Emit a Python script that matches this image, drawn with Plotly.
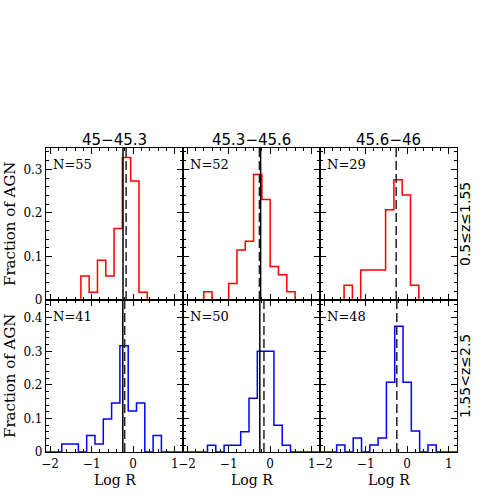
'''
    Histograms of Log R for AGN in three luminosity bins (columns)
    and two redshift bins (rows).
'''

import plotly.graph_objects as go
from plotly.subplots import make_subplots


col_titles = ['45−45.3', '45.3−45.6', '45.6−46']
row_titles = ['0.5≤z≤1.55', '1.55<z≤2.5']
n_agn = [55, 52, 29, 41, 50, 48]

# top row (0.5<=z<=1.55), bin edges in Log R and fraction per bin
edges_a = [-1.66, -1.46, -1.26, -1.06, -0.86, -0.66, -0.46, -0.26, -0.06,
           0.14, 0.34, 0.54, 0.74, 0.94, 1.14, 1.34]
frac_a = [0, 0, 0.055, 0.018, 0.091, 0.055, 0.164, 0.327, 0.273, 0.018,
          0, 0, 0, 0, 0]

edges_b = [-2.2, -2.0, -1.8, -1.6, -1.4, -1.2, -1.0, -0.8, -0.6, -0.4, -0.2,
           0.0, 0.2, 0.4, 0.6, 0.8, 1.0, 1.2, 1.4]
frac_b = [0, 0, 0, 0.019, 0, 0, 0.038, 0.115, 0.135, 0.288, 0.231, 0.077,
          0.058, 0.019, 0, 0, 0, 0]

edges_c = [-2.12, -1.92, -1.72, -1.52, -1.32, -1.12, -0.92, -0.72, -0.52,
           -0.32, -0.12, 0.08, 0.28, 0.48, 0.68]
frac_c = [0, 0, 0, 0.034, 0, 0.069, 0.069, 0.069, 0.207, 0.276, 0.241,
          0.034, 0, 0]

# bottom row (1.55<z<=2.5)
edges_d = [-2.12, -1.92, -1.72, -1.52, -1.32, -1.12, -0.92, -0.72, -0.52,
           -0.32, -0.12, 0.08, 0.28, 0.48, 0.68, 0.88, 1.08, 1.28]
frac_d = [0, 0, 0.024, 0.024, 0, 0.049, 0.024, 0.098, 0.146, 0.317, 0.122,
          0.146, 0, 0.049, 0, 0, 0]

edges_e = [-2.11, -1.91, -1.71, -1.51, -1.31, -1.11, -0.91, -0.71, -0.51,
           -0.31, -0.11, 0.09, 0.29, 0.49, 0.69, 0.89, 1.09, 1.29]
frac_e = [0, 0, 0, 0.02, 0, 0.02, 0.02, 0.06, 0.16, 0.30, 0.30, 0.08, 0.02,
          0, 0, 0, 0]

edges_f = [-2.1, -1.9, -1.7, -1.5, -1.3, -1.1, -0.9, -0.7, -0.5, -0.3, -0.1,
           0.1, 0.3, 0.5, 0.7, 0.9, 1.1, 1.3]
frac_f = [0, 0, 0.021, 0, 0.042, 0, 0.021, 0.042, 0.208, 0.375, 0.208,
          0.0625, 0, 0.021, 0, 0, 0]

# median markers (solid / dashed), None where no line is drawn
solid_median = [-0.245, -0.23, None, -0.25, -0.25, None]
dashed_median = [-0.17, -0.26, -0.265, -0.205, -0.15, -0.25]

SERIF = 'DejaVu Serif'
SANS = 'DejaVu Sans'


def add_histograms(fig):
    '''
        Draws each histogram as a step outline.
    '''
    panels = [(edges_a, frac_a), (edges_b, frac_b), (edges_c, frac_c),
              (edges_d, frac_d), (edges_e, frac_e), (edges_f, frac_f)]
    for i, (edges, frac) in enumerate(panels):
        row, col = i // 3 + 1, i % 3 + 1
        color = 'red' if row == 1 else 'blue'
        fig.add_trace(go.Scatter(
            x=edges, y=list(frac) + [frac[-1]],
            mode='lines', line=dict(color=color, width=1.5, shape='hv'),
            showlegend=False, hoverinfo='skip'
        ), row=row, col=col)
    return fig


def add_medians(fig):
    '''
        Adds the vertical median lines.
    '''
    for i in range(6):
        row, col = i // 3 + 1, i % 3 + 1
        if solid_median[i] is not None:
            fig.add_vline(x=solid_median[i], line=dict(color='black', width=1.5),
                          row=row, col=col)
        if dashed_median[i] is not None:
            fig.add_vline(x=dashed_median[i],
                          line=dict(color='#222222', width=1.5, dash='9px,4px'),
                          row=row, col=col)
    return fig


def update_axes(fig):
    '''
        Boxed frames with inside ticks on all sides.
    '''
    common = dict(ticks='inside', tickcolor='black', tickwidth=1, ticklen=6,
                  showline=True, linecolor='black', linewidth=1.2,
                  mirror='allticks', showgrid=False, zeroline=False,
                  layer='below traces',
                  tickfont=dict(family=SERIF, size=12, color='black'))
    fig.update_xaxes(range=[-2.1, 1.2], tick0=0, dtick=1,
                     minor=dict(tick0=0, dtick=0.2, ticks='inside', ticklen=3,
                                tickcolor='black'),
                     **common)
    fig.update_xaxes(showticklabels=False, row=1)
    fig.update_yaxes(tick0=0, dtick=0.1,
                     minor=dict(tick0=0, dtick=0.02, ticks='inside', ticklen=3,
                                tickcolor='black'),
                     **common)
    fig.update_yaxes(range=[0, 0.349], row=1)
    fig.update_yaxes(range=[0, 0.453], row=2)
    for c in (2, 3):
        fig.update_yaxes(showticklabels=False, col=c)
    return fig


def add_labels(fig):
    '''
        Column titles, row titles, axis titles and N counts.
    '''
    for c in range(3):
        fig.add_annotation(text=col_titles[c], x=(c + 0.5) / 3, y=1 + 8 / 304,
                           xref='paper', yref='paper', showarrow=False,
                           xanchor='center', yanchor='middle',
                           font=dict(family=SANS, size=15))
        fig.add_annotation(text='Log R', x=(c + 0.5) / 3, y=-28 / 304,
                           xref='paper', yref='paper', showarrow=False,
                           xanchor='center', yanchor='middle',
                           font=dict(family=SERIF, size=14))
    for r in range(2):
        fig.add_annotation(text=row_titles[r], x=1 + 8 / 411, y=0.75 - 0.5 * r,
                           xref='paper', yref='paper', showarrow=False,
                           textangle=-90, xanchor='center', yanchor='middle',
                           font=dict(family=SANS, size=14))
        fig.add_annotation(text='Fraction of AGN', x=-36 / 411,
                           y=0.75 - 0.5 * r, xref='paper', yref='paper',
                           showarrow=False, textangle=-90, xanchor='center',
                           yanchor='middle', font=dict(family=SERIF, size=15))
    for i in range(6):
        ax = '' if i == 0 else str(i + 1)
        fig.add_annotation(text='N=%d' % n_agn[i], x=0.035, y=0.955,
                           xref='x%s domain' % ax, yref='y%s domain' % ax,
                           xanchor='left', yanchor='top', showarrow=False,
                           font=dict(family=SERIF, size=13))
    return fig


fig = make_subplots(rows=2, cols=3, horizontal_spacing=0, vertical_spacing=0)
fig = add_histograms(fig)
fig = add_medians(fig)
fig = update_axes(fig)
fig = add_labels(fig)
fig.update_layout(width=498, height=498, plot_bgcolor='white',
                  paper_bgcolor='white',
                  margin=dict(l=46, r=41, t=148, b=46),
                  font=dict(family=SERIF, color='black'))

fig.write_html('out.html', config={'displayModeBar': False},
               post_script="document.body.style.margin='0px';")
